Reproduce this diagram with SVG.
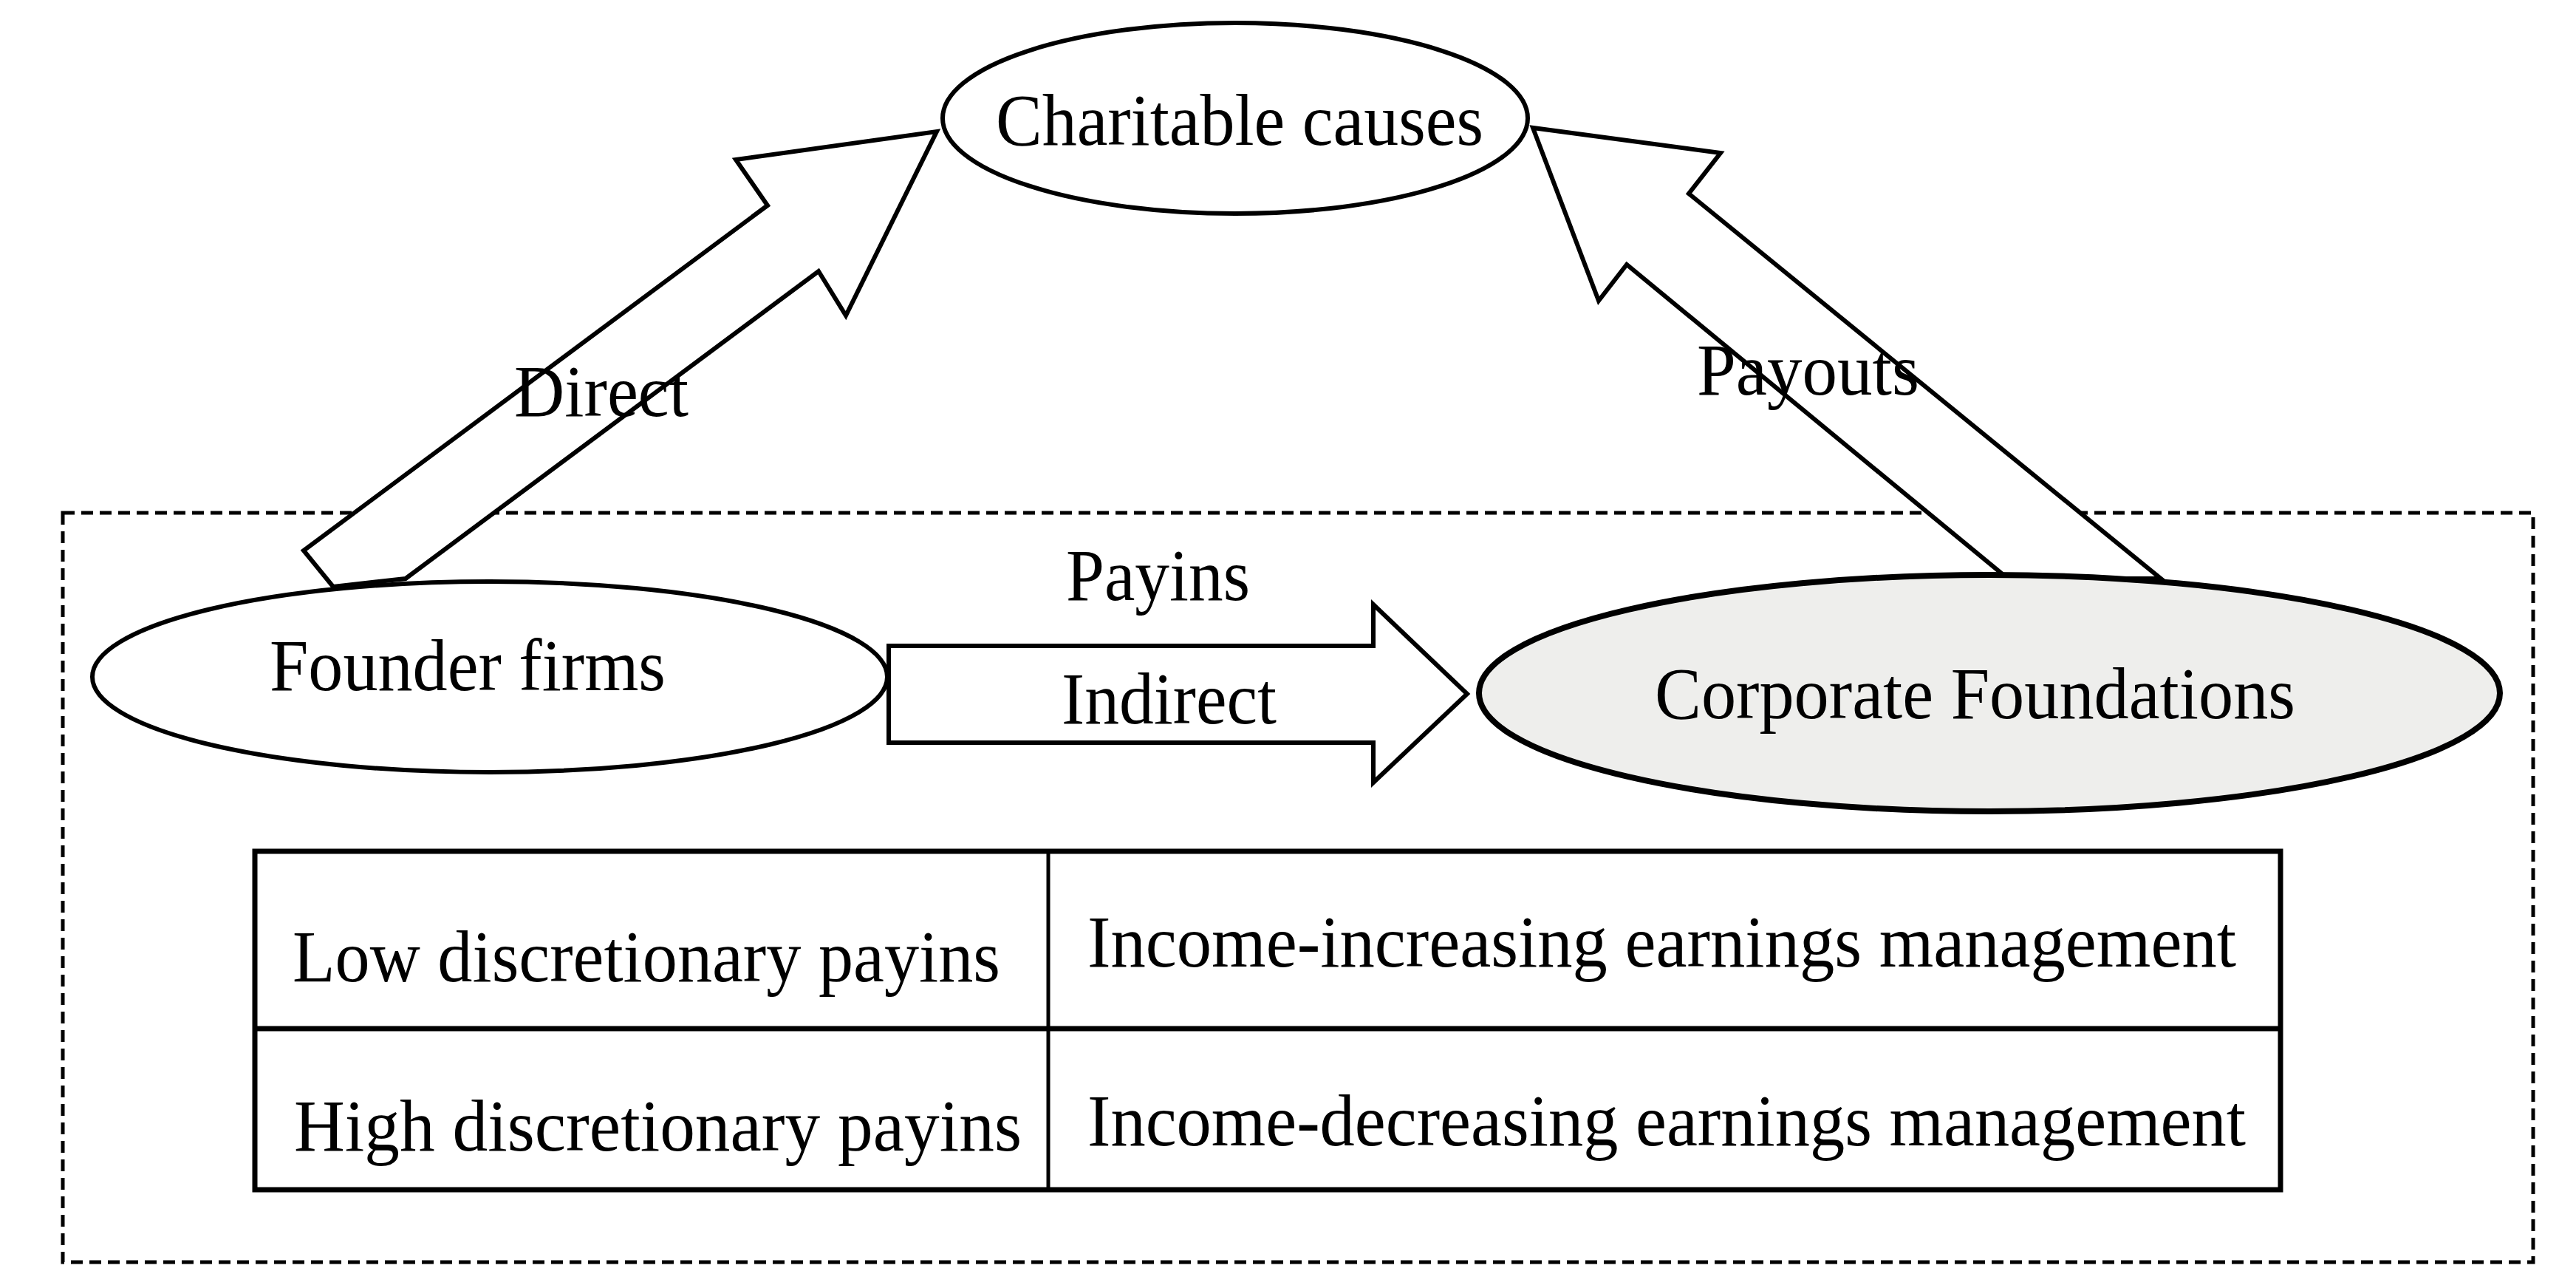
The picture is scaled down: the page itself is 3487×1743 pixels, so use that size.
<svg xmlns="http://www.w3.org/2000/svg" width="3487" height="1743" viewBox="0 0 3487 1743">
<style>
.s{stroke:#000;stroke-width:6;fill:#fff}
text{font-family:"Liberation Serif","Times New Roman",serif;font-size:100px;fill:#000}
</style>
<rect width="3487" height="1743" fill="#fff"/>
<rect x="85" y="694" width="3344" height="1014" fill="none" stroke="#000" stroke-width="5" stroke-dasharray="16 9"/>
<g id="connectors">
<polygon class="s" points="451,794 411,745 1039,278 996,216 1268,178 1145,427 1108,367 549,783"/>
<polygon class="s" points="2718,783 2202,358 2164,407 2075,173 2329,207 2286,262 2925,783"/>
<polygon class="s" points="1203,874 1859,874 1859,818 1986,939 1859,1059 1859,1005 1203,1005"/>
<text x="696" y="563" textLength="236" lengthAdjust="spacingAndGlyphs">Direct</text>
<text x="2297" y="534" textLength="301" lengthAdjust="spacingAndGlyphs">Payouts</text>
<text x="1443" y="812" textLength="249" lengthAdjust="spacingAndGlyphs">Payins</text>
<text x="1437" y="979" textLength="291" lengthAdjust="spacingAndGlyphs">Indirect</text>
</g>
<g id="charitable">
<ellipse class="s" cx="1672" cy="160" rx="396" ry="129"/>
<text x="1348" y="196" textLength="660" lengthAdjust="spacingAndGlyphs">Charitable causes</text>
</g>
<g id="founder">
<ellipse class="s" cx="663" cy="916" rx="538" ry="129"/>
<text x="365" y="934" textLength="536" lengthAdjust="spacingAndGlyphs">Founder firms</text>
</g>
<g id="foundations">
<ellipse class="s" cx="2693" cy="938" rx="691" ry="160" style="fill:#eeeeec;stroke-width:8"/>
<text x="2240" y="972" textLength="867" lengthAdjust="spacingAndGlyphs">Corporate Foundations</text>
</g>
<g id="table">
<rect x="345" y="1152" width="2742" height="458" fill="#fff" stroke="#000" stroke-width="7"/>
<line x1="345" y1="1392" x2="3087" y2="1392" stroke="#000" stroke-width="7"/>
<line x1="1419" y1="1152" x2="1419" y2="1610" stroke="#000" stroke-width="5"/>
<text x="396" y="1328" textLength="958" lengthAdjust="spacingAndGlyphs">Low discretionary payins</text>
<text x="1472" y="1308" textLength="1555" lengthAdjust="spacingAndGlyphs">Income-increasing earnings management</text>
<text x="398" y="1557" textLength="985" lengthAdjust="spacingAndGlyphs">High discretionary payins</text>
<text x="1472" y="1550" textLength="1568" lengthAdjust="spacingAndGlyphs">Income-decreasing earnings management</text>
</g>
</svg>
